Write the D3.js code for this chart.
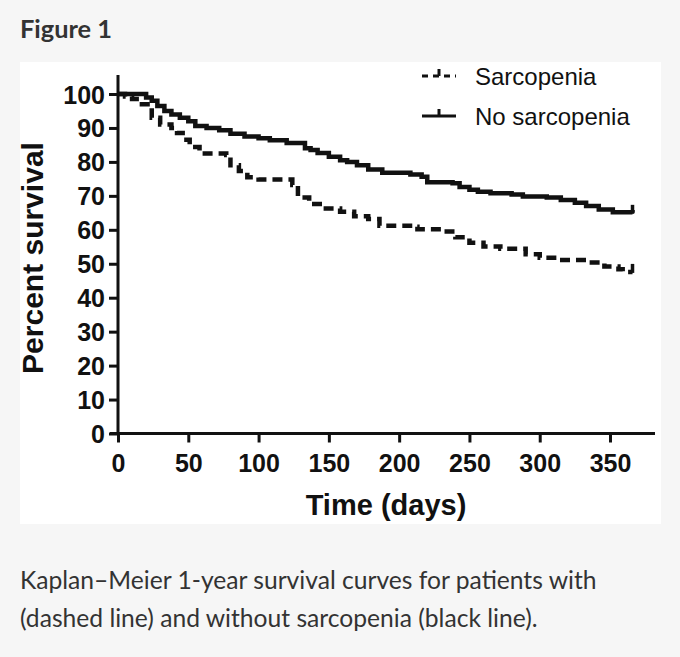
<!DOCTYPE html>
<html>
<head>
<meta charset="utf-8">
<script src="https://cdn.jsdelivr.net/npm/d3@7"></script>
<style>
  html, body { margin: 0; padding: 0; background: #f6f6f6; }
  svg { display: block; }
  .axis path, .axis line { stroke: #111; stroke-width: 3px; }
  .axis text { font-family: "Liberation Sans", Arial, sans-serif; font-weight: bold; font-size: 25px; fill: #111; }
</style>
</head>
<body>
<svg id="chart" width="680" height="657"></svg>
<script>
// Kaplan-Meier step points, [day, percent surviving]
const noSarcopenia = [
  [0, 100], [20, 99], [24, 98], [28, 96.5], [33, 95], [38, 94], [44, 93], [50, 92],
  [55, 90.6], [63, 90], [72, 89.3], [80, 88.3], [90, 87.5], [100, 87], [108, 86.4],
  [120, 85.6], [133, 84], [137, 83.5], [142, 82.6], [150, 81.5], [158, 80.5],
  [163, 80], [170, 79], [178, 77.8], [188, 76.8], [208, 76.3], [216, 75.6],
  [220, 74], [238, 73.7], [243, 72.6], [250, 71.8], [256, 71.2], [265, 70.8],
  [280, 70.4], [288, 69.8], [305, 69.5], [315, 68.8], [325, 68], [333, 67],
  [342, 66], [352, 65.2], [366, 65],
];

const sarcopenia = [
  [0, 100], [5, 99.3], [10, 98.5], [17, 97], [24, 93], [30, 91], [38, 90],
  [42, 88.5], [46, 86.5], [51, 84.4], [58, 82.5], [77, 82], [80, 79], [86, 77.3],
  [92, 75.5], [100, 74.8], [124, 73.2], [128, 69.5], [136, 67.6], [146, 66.3],
  [158, 65.3], [168, 64], [178, 63.2], [186, 61.2], [211, 60.9], [213, 60.2],
  [230, 59.5], [240, 57.8], [250, 56.2], [260, 55.1], [272, 54.4], [290, 52.8],
  [300, 51.8], [312, 51.1], [333, 50.4], [346, 49.2], [356, 48.4], [359, 47.6],
  [366, 47.6],
];

const xTicks = [0, 50, 100, 150, 200, 250, 300, 350];
const yTicks = [0, 10, 20, 30, 40, 50, 60, 70, 80, 90, 100];
const legendLabels = ["Sarcopenia", "No sarcopenia"];

const svg = d3.select("#chart");

// white figure panel
svg.append("rect")
  .attr("x", 20).attr("y", 62)
  .attr("width", 641).attr("height", 462)
  .attr("fill", "#fff");

// header + caption (fit to the widths seen in the figure)
function fitText(sel, target) {
  const w = sel.node().getComputedTextLength();
  const fs = parseFloat(sel.attr("font-size"));
  sel.attr("font-size", fs * target / w);
}

const title = svg.append("text")
  .attr("x", 20).attr("y", 38)
  .attr("font-family", "Lato, 'Open Sans', sans-serif")
  .attr("font-weight", "bold")
  .attr("font-size", 22)
  .attr("fill", "#333")
  .text("Figure 1");
fitText(title, 92);

const captionLines = [
  "Kaplan\u2013Meier 1-year survival curves for patients with",
  "(dashed line) and without sarcopenia (black line).",
];
const cap = svg.append("g")
  .attr("font-family", "Lato, 'Open Sans', sans-serif")
  .attr("fill", "#333");
const cap1 = cap.append("text").attr("x", 20).attr("y", 589)
  .attr("font-size", 21).text(captionLines[0]);
fitText(cap1, 577);
cap.append("text").attr("x", 20).attr("y", 627)
  .attr("font-size", cap1.attr("font-size")).text(captionLines[1]);

// scales
const x = d3.scaleLinear().domain([0, 382]).range([118, 655]);
const y = d3.scaleLinear().domain([0, 105.6]).range([433.5, 75]);

// axes
svg.append("g")
  .attr("class", "axis")
  .attr("transform", `translate(0,${y(0)})`)
  .call(d3.axisBottom(x).tickValues(xTicks).tickSize(9).tickSizeOuter(0).tickPadding(12))
  .call((g) => g.select(".domain").attr("d", `M${x(0) - 8},0H${x.range()[1]}`));

svg.append("g")
  .attr("class", "axis")
  .attr("transform", `translate(${x(0)},0)`)
  .call(d3.axisLeft(y).tickValues(yTicks).tickSize(9).tickSizeOuter(0).tickPadding(4))
  .call((g) => g.select(".domain").attr("d", `M0,${y.range()[1]}V${y(0)}`))
  .call((g) => g.selectAll(".tick text").attr("dy", "0.36em"));

// axis titles
svg.append("text")
  .attr("x", 386).attr("y", 515)
  .attr("text-anchor", "middle")
  .attr("font-family", "Liberation Sans, Arial, sans-serif")
  .attr("font-weight", "bold")
  .attr("font-size", 29)
  .attr("fill", "#111")
  .text("Time (days)");

svg.append("text")
  .attr("transform", `translate(43,${258}) rotate(-90)`)
  .attr("text-anchor", "middle")
  .attr("font-family", "Liberation Sans, Arial, sans-serif")
  .attr("font-weight", "bold")
  .attr("font-size", 30)
  .attr("fill", "#111")
  .text("Percent survival");

// survival curves
const line = d3.line()
  .x((d) => x(d[0]))
  .y((d) => y(d[1]))
  .curve(d3.curveStepAfter);

const series = [
  { key: "sarc", data: sarcopenia, dash: "10,6" },
  { key: "nosarc", data: noSarcopenia, dash: null },
];

svg.selectAll("path.km")
  .data(series)
  .join("path")
  .attr("class", "km")
  .attr("fill", "none")
  .attr("stroke", "#111")
  .attr("stroke-width", 4.5)
  .attr("stroke-dasharray", (d) => d.dash)
  .attr("d", (d) => line(d.data));

// censor ticks at end of follow-up
svg.selectAll("line.censor")
  .data(series)
  .join("line")
  .attr("class", "censor")
  .attr("stroke", "#111")
  .attr("stroke-width", 3.5)
  .attr("x1", (d) => x(d.data[d.data.length - 1][0]))
  .attr("x2", (d) => x(d.data[d.data.length - 1][0]))
  .attr("y1", (d) => y(d.data[d.data.length - 1][1]) + 1)
  .attr("y2", (d) => y(d.data[d.data.length - 1][1]) - 8);

// legend
const legend = svg.append("g")
  .attr("font-family", "Liberation Sans, Arial, sans-serif")
  .attr("font-size", 24)
  .attr("fill", "#111");

const items = legend.selectAll("g.item")
  .data(legendLabels)
  .join("g")
  .attr("class", "item")
  .attr("transform", (d, i) => `translate(0,${76 + i * 40})`);

items.append("line")
  .attr("x1", 422).attr("x2", 456)
  .attr("stroke", "#111")
  .attr("stroke-width", 3)
  .attr("stroke-dasharray", (d, i) => (i === 0 ? "6,5" : null));

items.append("line")
  .attr("x1", 439).attr("x2", 439)
  .attr("y1", 0).attr("y2", -7)
  .attr("stroke", "#111")
  .attr("stroke-width", 3);

items.append("text")
  .attr("x", 475)
  .attr("dy", "0.36em")
  .text((d) => d);
</script>
</body>
</html>
